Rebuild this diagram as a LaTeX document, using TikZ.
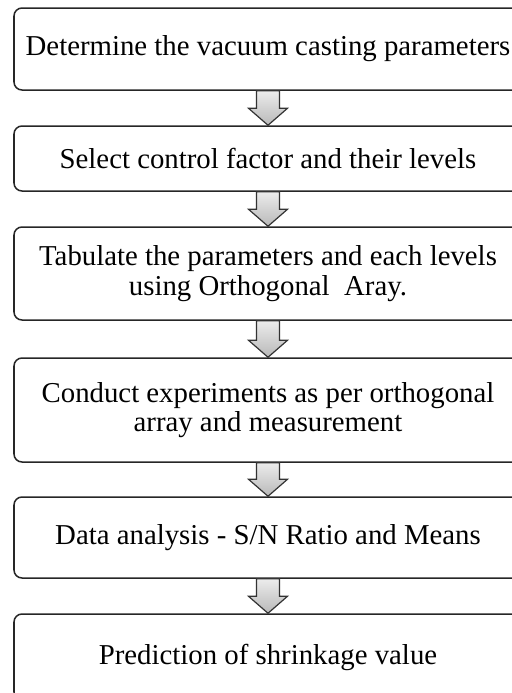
\documentclass[tikz,border=0pt]{standalone}
\usepackage{fontspec}
\setmainfont{Liberation Serif}
\usetikzlibrary{calc}

\begin{document}
\begin{tikzpicture}[x=0.5pt, y=-0.5pt,
        stepbox/.style={rectangle, rounded corners=4pt, draw=black!85, line width=0.75pt,
          minimum width=254pt, inner sep=2pt, align=center,
          font=\fontsize{14.4}{14.8}\selectfont},
        flowarrow/.style={draw=black!80, line width=0.6pt, top color=gray!15, bottom color=gray!55},
      ]
      \useasboundingbox (0,0) rectangle (512,693);

      % the six steps, top to bottom
      \foreach \y/\h/\name/\txt in {
        49/41/det/{Determine the vacuum casting parameters},
        158.5/32.5/sel/{Select control factor and their levels},
        273.5/46.5/tab/{Tabulate the parameters and each levels\\using Orthogonal\ \ Aray.},
        410/52/con/{Conduct experiments as per orthogonal\\array and measurement},
        537.5/40.5/dat/{Data analysis - S/N Ratio and Means},
        657/43/pre/{Prediction of shrinkage value}}
        \node[stepbox, minimum height=\h pt] (\name) at (268,\y) {\txt};

      % block arrows between the steps
      \foreach \a/\b in {det/sel, sel/tab, tab/con, con/dat, dat/pre}
        \path[flowarrow] ($(\a.south)+(-11.5,0)$) -- ($(\b.north)+(-11.5,-17)$)
          -- ($(\b.north)+(-19.5,-17)$) -- (\b.north) -- ($(\b.north)+(19.5,-17)$)
          -- ($(\b.north)+(11.5,-17)$) -- ($(\a.south)+(11.5,0)$) -- cycle;
    \end{tikzpicture}
\end{document}
